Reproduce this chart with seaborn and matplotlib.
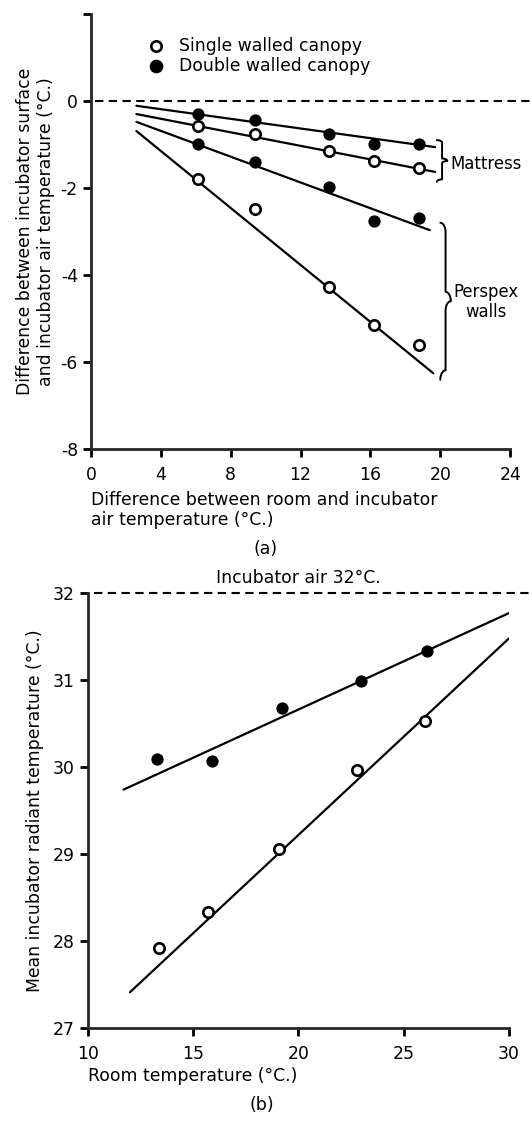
import numpy as np
import pandas as pd
import seaborn as sns
import matplotlib.pyplot as plt

plt.switch_backend('agg')
sns.set_style('ticks')
plt.rcParams['font.family'] = ['DejaVu Sans']
plt.rcParams['text.color'] = 'black'
plt.rcParams['axes.labelcolor'] = 'black'

# panel (a): difference room - incubator vs surface - air difference
a_x = [6.1, 9.4, 13.6, 16.2, 18.8]
a_mattress_double = [-0.30, -0.43, -0.77, -0.98, -1.00]
a_mattress_single = [-0.58, -0.77, -1.15, -1.39, -1.53]
a_perspex_double = [-1.00, -1.41, -1.98, -2.76, -2.70]
a_perspex_single = [-1.80, -2.48, -4.28, -5.15, -5.61]

# fitted lines (start, end)
a_fit_x = [2.6, 19.7]
a_fit_mattress_double = [-0.11, -1.06]
a_fit_mattress_single = [-0.30, -1.63]
a_fit_perspex_double_x = [2.6, 19.4]
a_fit_perspex_double = [-0.48, -2.97]
a_fit_perspex_single_x = [2.6, 19.6]
a_fit_perspex_single = [-0.69, -6.26]

a_xticks = [0, 4, 8, 12, 16, 20, 24]
a_yticks = [-8, -6, -4, -2, 0, 2]
a_yticklabels = ['-8', '-6', '-4', '-2', '0', '']

# panel (b): room temperature vs mean radiant temperature
b_double_x = [13.3, 15.9, 19.2, 22.95, 26.1]
b_double_y = [30.09, 30.07, 30.68, 30.99, 31.33]
b_single_x = [13.4, 15.7, 19.1, 22.8, 26.0]
b_single_y = [27.92, 28.33, 29.06, 29.97, 30.53]

b_fit_double_x = [11.7, 30.0]
b_fit_double_y = [29.74, 31.77]
b_fit_single_x = [12.0, 30.0]
b_fit_single_y = [27.41, 31.48]

b_xticks = [10, 15, 20, 25, 30]
b_yticks = [27, 28, 29, 30, 31, 32]
b_air = 32

LW = 1.6
FS = 12.4
S_FILL = 78
S_OPEN = 56


def points(ax, x, y, filled):
    df = pd.DataFrame({'x': x, 'y': y})
    if filled:
        sns.scatterplot(data=df, x='x', y='y', ax=ax, color='black', s=S_FILL,
                        edgecolor='black', linewidth=0, zorder=4, clip_on=False)
    else:
        sns.scatterplot(data=df, x='x', y='y', ax=ax, color='white', s=S_OPEN,
                        edgecolor='black', linewidth=1.9, zorder=4, clip_on=False)


def fit(ax, x, y):
    df = pd.DataFrame({'x': x, 'y': y})
    sns.lineplot(data=df, x='x', y='y', ax=ax, color='black', lw=LW, zorder=3)


def brace(ax, x, y0, y1, w):
    # curly brace in data coords, point to the right
    ym = (y0 + y1) / 2.0
    t = np.linspace(0, 1, 30)
    r = w * 0.5
    hy = abs(y1 - y0) * 0.06
    sgn = 1 if y0 > y1 else -1
    xs = list(x + r * np.sin(t * np.pi / 2))
    ys = list(y0 - sgn * hy * (1 - np.cos(t * np.pi / 2)))
    xs += [x + r, x + r]
    ys += [y0 - sgn * hy, ym + sgn * hy]
    xs += list(x + r + r * np.sin(t * np.pi / 2))
    ys += list(ym + sgn * hy * np.cos(t * np.pi / 2))
    xs += list(x + 2 * r - r * np.sin(t * np.pi / 2))
    ys += list(ym - sgn * hy * (1 - np.cos(t * np.pi / 2)))
    xs += [x + r, x + r]
    ys += [ym - sgn * hy, y1 + sgn * hy]
    xs += list(x + r - r * np.sin(t * np.pi / 2))
    ys += list(y1 + sgn * hy * np.cos(t * np.pi / 2))
    ax.plot(xs, ys, color='black', lw=1.4, clip_on=False)


fig = plt.figure(figsize=(5.32, 11.21), dpi=100)

# ---------------- (a)
ax = fig.add_axes([0.171, 0.5995, 0.788, 0.388])
ax.axhline(0, xmin=0.01, xmax=1.05, color='black', lw=1.5, ls=(0, (4, 2.6)), clip_on=False)
fit(ax, a_fit_x, a_fit_mattress_double)
fit(ax, a_fit_x, a_fit_mattress_single)
fit(ax, a_fit_perspex_double_x, a_fit_perspex_double)
fit(ax, a_fit_perspex_single_x, a_fit_perspex_single)
points(ax, a_x, a_mattress_double, True)
points(ax, a_x, a_mattress_single, False)
points(ax, a_x, a_perspex_double, True)
points(ax, a_x, a_perspex_single, False)

ax.set_xlim(0, 24)
ax.set_ylim(-8, 2)
ax.set_xticks(a_xticks)
ax.set_yticks(a_yticks)
ax.set_yticklabels(a_yticklabels)

brace(ax, 19.8, -0.90, -1.86, 0.6)
brace(ax, 20.0, -2.80, -6.41, 0.6)
ax.text(20.6, -1.45, 'Mattress', fontsize=FS - 0.5, va='center', ha='left')
ax.text(22.6, -4.62, 'Perspex\nwalls', fontsize=FS - 0.5, va='center', ha='center', linespacing=1.1)

h1 = ax.scatter([], [], s=S_OPEN, facecolor='white', edgecolor='black', linewidth=1.9)
h2 = ax.scatter([], [], s=S_FILL, color='black')
ax.legend([h1, h2], ['Single walled canopy', 'Double walled canopy'], loc='upper left',
          bbox_to_anchor=(0.085, 0.975), frameon=False, fontsize=FS, handletextpad=0.35,
          labelspacing=0.1, borderpad=0.2)

ax.set_xlabel('Difference between room and incubator\nair temperature (°C.)', loc='left',
              fontsize=FS, labelpad=5)
ax.set_ylabel('Difference between incubator surface\nand incubator air temperature (°C.)',
              fontsize=FS, labelpad=4)
fig.text(266 / 532, 1 - 549 / 1121, '(a)', fontsize=FS, ha='center', va='center')

# ---------------- (b)
bx = fig.add_axes([0.165, 0.083, 0.792, 0.388])
bx.axhline(b_air, xmin=0.015, xmax=1.05, color='black', lw=1.5, ls=(0, (4, 2.6)), clip_on=False)
fit(bx, b_fit_double_x, b_fit_double_y)
fit(bx, b_fit_single_x, b_fit_single_y)
points(bx, b_double_x, b_double_y, True)
points(bx, b_single_x, b_single_y, False)
bx.set_xlim(10, 30)
bx.set_ylim(27, 32)
bx.set_xticks(b_xticks)
bx.set_yticks(b_yticks)
bx.text(20, 32.17, 'Incubator air 32°C.', fontsize=FS, ha='center', va='center')
bx.set_xlabel('Room temperature (°C.)', loc='left', fontsize=FS, labelpad=3)
bx.set_ylabel('Mean incubator radiant temperature (°C.)', fontsize=FS, labelpad=6)
fig.text(262 / 532, 1 - 1105 / 1121, '(b)', fontsize=FS, ha='center', va='center')

for a in (ax, bx):
    sns.despine(ax=a)
    a.spines['left'].set_linewidth(2)
    a.spines['bottom'].set_linewidth(2)
    a.tick_params(axis='both', width=2, length=6, labelsize=FS, colors='black')
    a.tick_params(axis='x', pad=6)

fig.savefig('out.png', dpi=100)
